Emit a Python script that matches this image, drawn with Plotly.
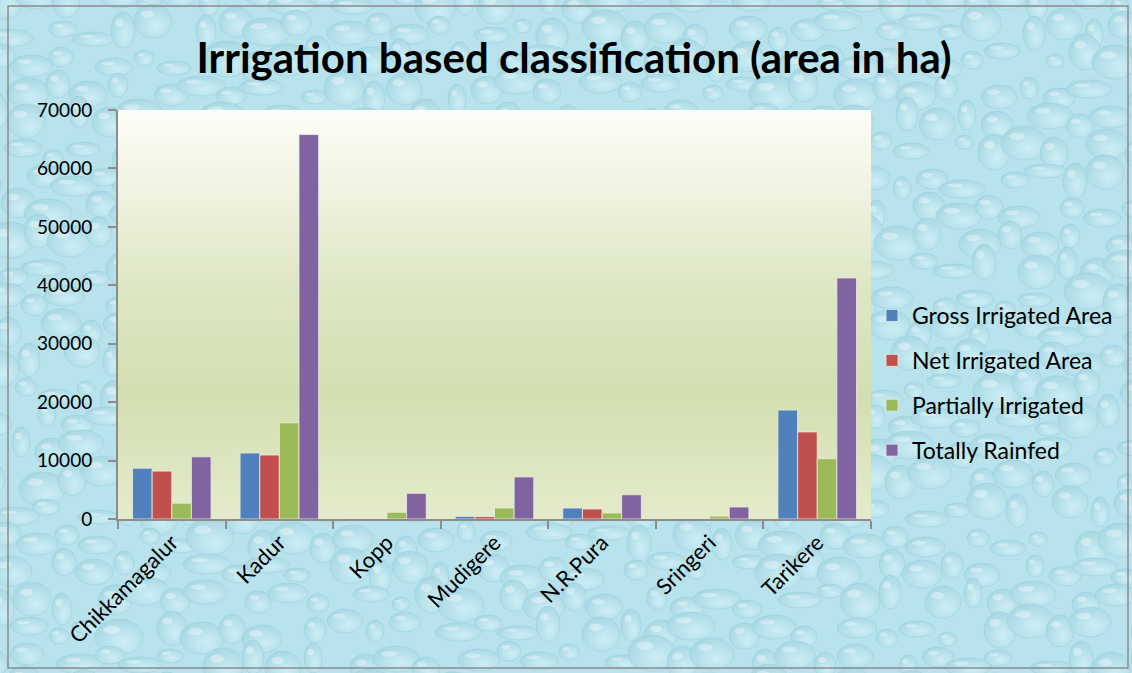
import plotly.graph_objects as go
import base64

categories = ["Chikkamagalur", "Kadur", "Kopp", "Mudigere", "N.R.Pura", "Sringeri", "Tarikere"]
gross_irrigated = [8700, 11300, 0, 450, 1880, 0, 18650]
net_irrigated = [8200, 10950, 0, 400, 1710, 0, 14900]
partially_irrigated = [2700, 16450, 1150, 1880, 1030, 500, 10320]
totally_rainfed = [10650, 65800, 4400, 7200, 4150, 2050, 41250]
y_ticks = [0, 10000, 20000, 30000, 40000, 50000, 60000, 70000]

series = [
    ("Gross Irrigated Area", gross_irrigated, "#4f81bd"),
    ("Net Irrigated Area", net_irrigated, "#c0504d"),
    ("Partially Irrigated", partially_irrigated, "#9bbb59"),
    ("Totally Rainfed", totally_rainfed, "#8064a2"),
]

W, H = 1132, 673
L, R, T, B = 118, 261, 110, 154
pw, ph = W - L - R, H - T - B

fig = go.Figure()
for i, (name, vals, col) in enumerate(series):
    fig.add_trace(go.Bar(
        name=name, x=categories, y=vals, marker_color=col,
        marker_line=dict(color="rgba(235,235,225,0.8)", width=1),
        legendgroup=f"g{i}",
    ))

# plot-area gradient
grad_svg = (
    '<svg xmlns="http://www.w3.org/2000/svg" width="100" height="100" preserveAspectRatio="none">'
    '<defs><linearGradient id="g" x1="0" y1="0" x2="0" y2="1">'
    '<stop offset="0" stop-color="#fdfdf8"/>'
    '<stop offset="0.45" stop-color="#dde6c2"/>'
    '<stop offset="0.7" stop-color="#d3dfb1"/>'
    '<stop offset="1" stop-color="#e4ebcb"/>'
    '</linearGradient></defs><rect width="100" height="100" fill="url(#g)"/></svg>'
)
grad_uri = "data:image/svg+xml;base64," + base64.b64encode(grad_svg.encode()).decode()

# water drops texture for the background
drops = []
k = 0
for row in range(0, 700, 30):
    for col in range(0, 1160, 36):
        k += 1
        ox = (k * 17) % 23 - 11
        oy = (k * 29) % 19 - 9
        rx = 9 + (k * 7) % 16
        ry = 7 + (k * 11) % 12
        cx = col + ox + (row // 30 % 2) * 18
        cy = row + oy
        drops.append(
            f'<ellipse cx="{cx}" cy="{cy}" rx="{rx}" ry="{ry}" fill="url(#d)" stroke="#93cdd9" stroke-opacity="0.45" stroke-width="1"/>'
            f'<ellipse cx="{cx - rx*0.3:.1f}" cy="{cy - ry*0.4:.1f}" rx="{rx*0.35:.1f}" ry="{ry*0.22:.1f}" fill="#ffffff" fill-opacity="0.35"/>'
        )
tex_svg = (
    f'<svg xmlns="http://www.w3.org/2000/svg" width="{W}" height="{H}" preserveAspectRatio="none">'
    '<defs><radialGradient id="d" cx="0.6" cy="0.65" r="0.7">'
    '<stop offset="0" stop-color="#cdeef5"/><stop offset="1" stop-color="#a6d7e2"/>'
    '</radialGradient></defs>'
    f'<rect width="{W}" height="{H}" fill="#b8e2ec"/>' + "".join(drops) + '</svg>'
)
tex_uri = "data:image/svg+xml;base64," + base64.b64encode(tex_svg.encode()).decode()

fig.update_layout(
    width=W, height=H,
    margin=dict(l=L, r=R, t=T, b=B),
    paper_bgcolor="#b8e2ec",
    plot_bgcolor="rgba(0,0,0,0)",
    barmode="group",
    bargap=0.27, bargroupgap=0.0,
    font=dict(family="Lato, Carlito, sans-serif", color="black", size=19),
    title=dict(
        text="<b>Irrigation based classification (area in ha)</b>",
        x=574 / W, xanchor="center", y=1 - 58 / H, yanchor="middle",
        font=dict(size=42, family="Lato, sans-serif", color="black"),
    ),
    legend=dict(
        x=(872 - L) / pw, xanchor="left", y=(519 - 383) / ph, yanchor="middle",
        font=dict(size=23), tracegroupgap=12, bgcolor="rgba(0,0,0,0)",
        itemwidth=30,
    ),
    images=[
        dict(source=tex_uri, xref="paper", yref="paper",
             x=-L / pw, y=1 + T / ph, sizex=W / pw, sizey=H / ph,
             sizing="stretch", layer="below", xanchor="left", yanchor="top"),
        dict(source=grad_uri, xref="paper", yref="paper",
             x=0, y=1, sizex=1, sizey=1, sizing="stretch", layer="below",
             xanchor="left", yanchor="top"),
    ],
    shapes=[
        dict(type="rect", xref="paper", yref="paper",
             x0=(8 - L) / pw, x1=(1128 - L) / pw,
             y0=(519 - 668) / ph, y1=(519 - 6) / ph,
             line=dict(color="#8c8c8c", width=1.5), layer="above"),
    ],
)

fig.update_xaxes(
    showline=True, linecolor="#8c8c8c", linewidth=2,
    ticks="outside", tickson="boundaries", ticklen=8, tickcolor="#8c8c8c", tickwidth=2,
    tickangle=-45, tickfont=dict(size=22), showgrid=False,
)
fig.update_yaxes(
    range=[0, 70000], tickvals=y_ticks, ticktext=[str(v) for v in y_ticks],
    showline=True, linecolor="#8c8c8c", linewidth=2,
    ticks="outside", ticklen=8, tickcolor="#8c8c8c", tickwidth=2,
    showgrid=False, zeroline=False, tickfont=dict(size=19), ticklabelstandoff=12,
)

fig.write_html(
    "out.html",
    config={"displayModeBar": False},
    post_script="document.body.style.margin='0';document.body.style.padding='0';",
)
